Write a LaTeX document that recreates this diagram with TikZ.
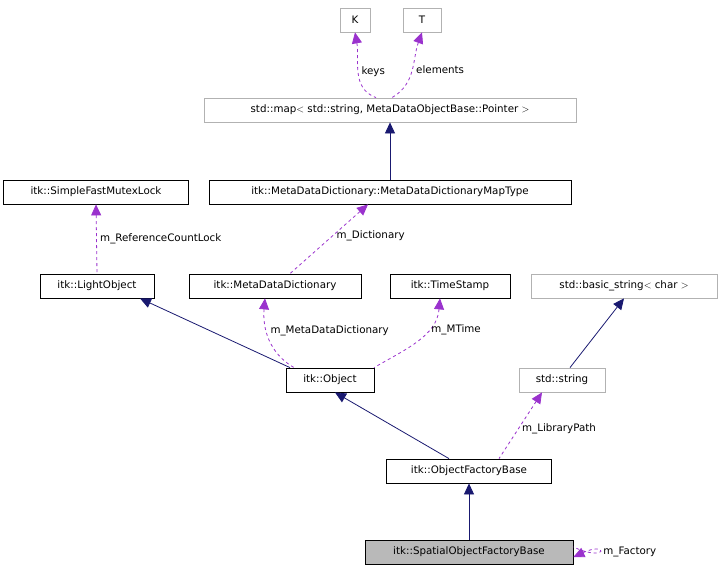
\documentclass[tikz,border=0pt]{standalone}
\usepackage{fontspec}
\setmainfont{DejaVu Sans}
\usetikzlibrary{arrows.meta}
\definecolor{navy}{HTML}{191970}
\definecolor{purp}{HTML}{9A32CD}
\begin{document}
\begin{tikzpicture}[x=1pt,y=-1pt,
  box/.style={draw=black,thick,minimum height=24pt,inner xsep=4pt,font=\fontsize{10.3}{12}\selectfont},
  gbox/.style={box,draw=gray!60},
  inh/.style={navy,thick,{Triangle[length=11pt,width=10pt]}-},
  use/.style={purp,thick,dashed,{Triangle[length=11pt,width=10pt]}-},
  lab/.style={font=\fontsize{10.3}{12}\selectfont,text=black}]
\useasboundingbox (0,0) rectangle (723,573);
\node[gbox,minimum width=30pt] (K) at (355,20) {K};
\node[gbox,minimum width=38pt] (T) at (422,20) {T};
\node[gbox,minimum width=372pt] (map) at (390,110) {std::map$<$ std::string, MetaDataObjectBase::Pointer $>$};
\node[box,minimum width=362pt] (mt) at (390,192) {itk::MetaDataDictionary::MetaDataDictionaryMapType};
\node[box,minimum width=185pt] (mx) at (96,192) {itk::SimpleFastMutexLock};
\node[box,minimum width=114pt] (lo) at (97,286) {itk::LightObject};
\node[box,minimum width=172pt] (md) at (275,286) {itk::MetaDataDictionary};
\node[box,minimum width=120pt] (ts) at (450,286) {itk::TimeStamp};
\node[gbox,minimum width=186pt] (bs) at (624,286) {std::basic\_string$<$ char $>$};
\node[box,minimum width=88pt] (ob) at (330,380) {itk::Object};
\node[gbox,minimum width=86pt] (ss) at (562,380) {std::string};
\node[box,minimum width=165pt] (of) at (469,471) {itk::ObjectFactoryBase};
\node[box,fill=gray!55,minimum width=208pt] (sp) at (469,552) {itk::SpatialObjectFactoryBase};

\draw[use] (K.south) to[out=-80,in=160] node[lab,right,pos=0.5]{keys} ([xshift=-14pt]map.north);
\draw[use] (T.south) to[out=-110,in=30] node[lab,right,pos=0.5]{elements} ([xshift=2pt]map.north);
\draw[inh] (map.south) -- (mt.north);
\draw[use] ([xshift=-22pt]mt.south) -- node[lab,right,pos=0.45]{m\_Dictionary} ([xshift=15pt]md.north);
\draw[use] (mx.south) -- node[lab,right]{m\_ReferenceCountLock} (lo.north);
\draw[inh] ([xshift=43pt]lo.south) -- ([xshift=-40pt]ob.north);
\draw[use] ([xshift=-10pt]md.south) to[out=-95,in=150] node[lab,right,pos=0.4]{m\_MetaDataDictionary} ([xshift=-36pt]ob.north);
\draw[use] ([xshift=-10pt]ts.south) to[out=-95,in=30] node[lab,right,pos=0.35]{m\_MTime} ([xshift=44pt]ob.north);
\draw[inh] (bs.south) -- ([xshift=8pt]ss.north);
\draw[inh] ([xshift=5pt]ob.south) -- ([xshift=-20pt]of.north);
\draw[use] ([xshift=-20pt]ss.south) -- node[lab,right,pos=0.55]{m\_LibraryPath} ([xshift=30pt]of.north);
\draw[inh] (of.south) -- (sp.north);
\draw[use] ([yshift=-5pt]sp.east) .. controls +(35,-16) and +(35,16) .. node[lab,right]{m\_Factory} ([yshift=5pt]sp.east);
\end{tikzpicture}
\end{document}
